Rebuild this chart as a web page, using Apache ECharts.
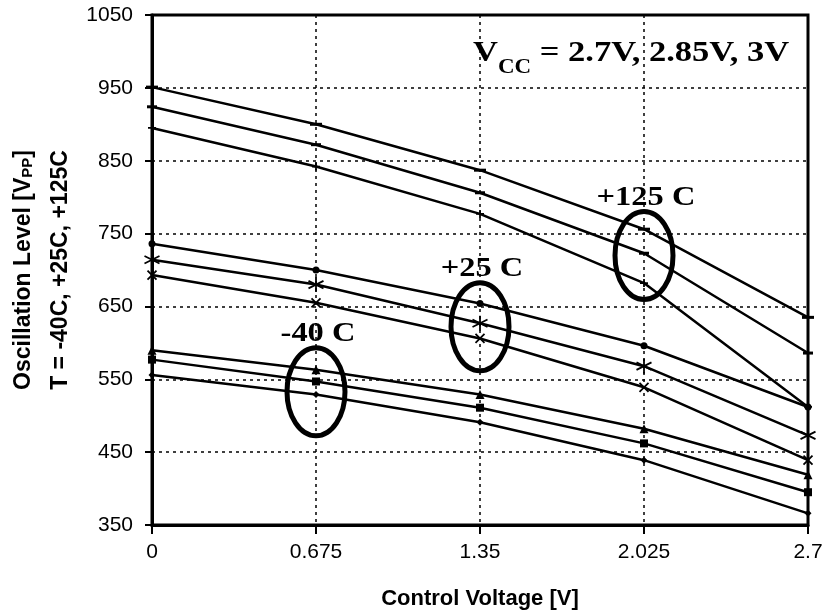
<!DOCTYPE html>
<html>
<head>
<meta charset="utf-8">
<script src="https://cdn.jsdelivr.net/npm/echarts@6/dist/echarts.min.js"></script>
<style>
  html, body { margin: 0; padding: 0; background: #fff; }
  #chart { width: 826px; height: 611px; }
</style>
</head>
<body>
<div id="chart"></div>
<script>
// control voltage steps [V]
const controlVoltage = [0, 0.675, 1.35, 2.025, 2.7];

// oscillation level, three supply voltages per temperature
const hot3V = [951, 900, 837, 756, 635];
const hot285V = [924, 872, 806, 723, 586];
const hot27V = [895, 842, 777, 682, 512];
const room3V = [736, 700, 654, 596, 512];
const room285V = [714, 680, 627, 568, 473];
const room27V = [693, 655, 606, 539, 439];
const cold3V = [590, 563, 529, 482, 419];
const cold285V = [577, 547, 511, 462, 395];
const cold27V = [556, 529, 491, 439, 366];

// ellipse callouts around each temperature group
const groupLabels = ['-40 C', '+25 C', '+125 C'];
const groupX = [0.675, 1.35, 2.025];
const groupY = [533, 622, 720];

const SANS = '"Liberation Sans", Arial, sans-serif';
const SERIF = '"Liberation Serif", "Times New Roman", serif';

const plus = 'path://M0,-5L0,5M-5,0L5,0';
const star = 'path://M0,-7L0,7M-6.06,-3.5L6.06,3.5M-6.06,3.5L6.06,-3.5';
const cross = 'path://M-5,-5L5,5M-5,5L5,-5';

const curves = [
    {data: hot3V, symbol: 'rect', size: [12, 3]},
    {data: hot285V, symbol: 'rect', size: [10, 3]},
    {data: hot27V, symbol: plus, size: 8, stroke: true},
    {data: room3V, symbol: 'circle', size: 7},
    {data: room285V, symbol: star, size: 15, stroke: true},
    {data: room27V, symbol: cross, size: 9, stroke: true},
    {data: cold3V, symbol: 'triangle', size: 9},
    {data: cold285V, symbol: 'rect', size: 8},
    {data: cold27V, symbol: 'diamond', size: 7}
];

const lineSeries = curves.map(c => ({
    type: 'line',
    data: controlVoltage.map((x, i) => [x, c.data[i]]),
    symbol: c.symbol,
    symbolSize: c.size,
    showSymbol: true,
    lineStyle: {color: '#000', width: 2.5},
    itemStyle: c.stroke
        ? {color: 'none', borderColor: '#000', borderWidth: 1.8}
        : {color: '#000', borderWidth: 0},
    emphasis: {disabled: true},
    z: 3
}));

const calloutSeries = {
    type: 'custom',
    data: groupX.map((x, i) => [x, groupY[i]]),
    clip: false,
    z: 4,
    renderItem: (params, api) => {
        const p = api.coord([api.value(0), api.value(1)]);
        return {
            type: 'group',
            children: [
                {
                    type: 'ellipse',
                    shape: {cx: p[0], cy: p[1], rx: 29, ry: 44},
                    style: {fill: 'none', stroke: '#000', lineWidth: 5}
                },
                {
                    type: 'text',
                    x: p[0] + 2,
                    y: p[1] - 58,
                    scaleX: 1.16,
                    style: {
                        text: groupLabels[params.dataIndex],
                        font: 'bold 28px ' + SERIF,
                        fill: '#000',
                        align: 'center',
                        verticalAlign: 'middle'
                    }
                }
            ]
        };
    }
};

const gridLine = {show: true, lineStyle: {color: '#000', width: 1.5, type: [3, 4]}};

const options = {
    animation: false,
    backgroundColor: '#fff',
    grid: {
        left: 152, right: 18, top: 15, bottom: 86,
        outerBoundsMode: 'none',
        containLabel: false,
        show: true, borderColor: '#000', borderWidth: 3
    },
    xAxis: {
        type: 'value',
        min: 0,
        max: 2.7,
        interval: 0.675,
        axisLine: {lineStyle: {color: '#000', width: 3}},
        axisTick: {show: true, length: 9, lineStyle: {color: '#000', width: 2}},
        axisLabel: {
            color: '#000', fontFamily: SANS, fontSize: 21, margin: 17,
            formatter: v => String(+v.toFixed(3))
        },
        splitLine: gridLine,
        name: 'Control Voltage [V]',
        nameLocation: 'middle',
        nameGap: 63,
        nameTextStyle: {color: '#000', fontFamily: SANS, fontSize: 22, fontWeight: 'bold'}
    },
    yAxis: {
        type: 'value',
        min: 350,
        max: 1050,
        interval: 100,
        axisLine: {lineStyle: {color: '#000', width: 3}},
        axisTick: {show: true, length: 7, lineStyle: {color: '#000', width: 2}},
        axisLabel: {
            color: '#000', fontFamily: SANS, fontSize: 21, margin: 19,
            formatter: v => String(v)
        },
        splitLine: gridLine
    },
    graphic: [
        {
            type: 'text',
            x: 24,
            y: 270,
            rotation: Math.PI / 2,
            style: {
                text: 'Oscillation Level [V{s|PP}]',
                font: 'bold 23px ' + SANS,
                fill: '#000',
                align: 'center',
                verticalAlign: 'middle',
                rich: {s: {fontFamily: SANS, fontSize: 15, fontWeight: 'bold', verticalAlign: 'bottom', lineHeight: 18}}
            }
        },
        {
            type: 'text',
            x: 61,
            y: 270,
            rotation: Math.PI / 2,
            style: {
                text: 'T = -40C, +25C, +125C',
                font: 'bold 23px ' + SANS,
                fill: '#000',
                align: 'center',
                verticalAlign: 'middle'
            }
        },
        {
            type: 'text',
            x: 473,
            y: 38,
            z: 10,
            scaleX: 1.15,
            style: {
                text: '{v|V}{s|CC}{v| = 2.7V, 2.85V, 3V}',
                fill: '#000',
                align: 'left',
                verticalAlign: 'top',
                rich: {
                    v: {fontFamily: SERIF, fontSize: 30, fontWeight: 'bold', lineHeight: 32, verticalAlign: 'top'},
                    s: {fontFamily: SERIF, fontSize: 20, fontWeight: 'bold', lineHeight: 21, padding: [20, 0, 0, 0], verticalAlign: 'top'}
                }
            }
        }
    ],
    series: [...lineSeries, calloutSeries]
};

const chart = echarts.init(document.getElementById('chart'));
chart.setOption(options);
window.addEventListener('resize', () => chart.resize());
</script>
</body>
</html>
